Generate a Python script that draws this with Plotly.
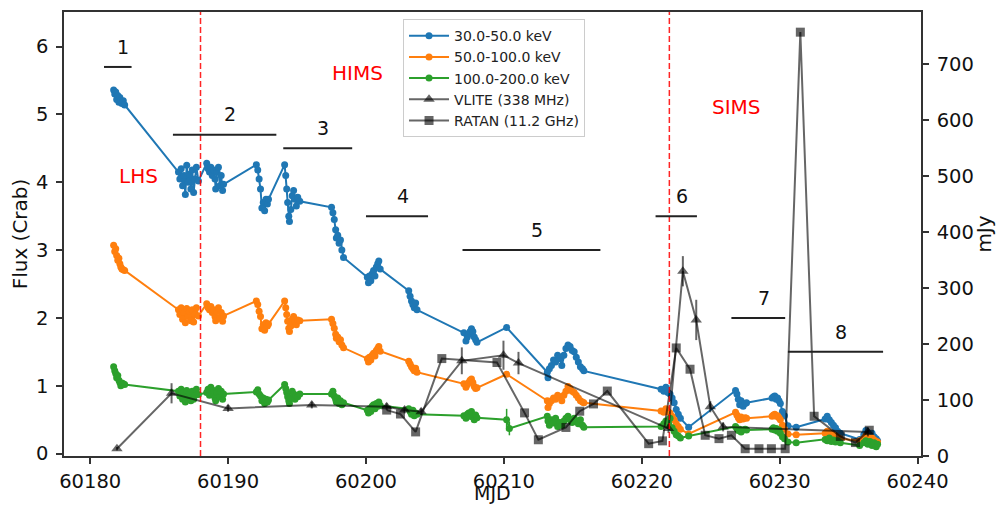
import plotly.graph_objects as go

# ---------------- data ----------------
# 30.0-50.0 keV (Crab)
hard1_mjd = [60181.70, 60181.78, 60181.85, 60181.92, 60182.00, 60182.08, 60182.15, 60182.22, 60182.30, 60182.40, 60182.50,
             60186.40, 60186.50, 60186.60, 60186.70, 60186.80, 60186.90, 60187.00, 60187.10, 60187.20, 60187.30, 60187.40, 60187.50, 60187.60, 60187.70, 60187.85,
             60188.45, 60188.55, 60188.65, 60188.75, 60188.85, 60188.95, 60189.05, 60189.10, 60189.20, 60189.30, 60189.40, 60189.50, 60189.60, 60189.67,
             60192.05, 60192.15, 60192.25, 60192.35, 60192.45, 60192.55, 60192.65, 60192.75, 60192.85, 60192.93,
             60194.10, 60194.18, 60194.25, 60194.32, 60194.40, 60194.45, 60194.55, 60194.65, 60194.75, 60194.85, 60194.95, 60195.05, 60195.20,
             60197.50, 60197.60, 60197.70, 60197.80, 60197.85, 60197.95, 60198.05, 60198.15, 60198.25, 60198.37,
             60200.10, 60200.18, 60200.25, 60200.35, 60200.45, 60200.55, 60200.65, 60200.75, 60200.85, 60200.93, 60201.03,
             60203.10, 60203.20, 60203.30, 60203.40, 60203.50, 60203.60, 60203.70,
             60207.10, 60207.25, 60207.35, 60207.45, 60207.55, 60207.65, 60207.75, 60207.85, 60207.95, 60208.05,
             60210.20,
             60213.15, 60213.20, 60213.30, 60213.45, 60213.60, 60213.75, 60213.90, 60214.05, 60214.20, 60214.35, 60214.50, 60214.65, 60214.80, 60214.95, 60215.10, 60215.25, 60215.40, 60215.55, 60215.70, 60215.80,
             60221.40, 60221.60, 60221.75, 60221.90, 60222.05, 60222.20, 60222.35, 60222.50, 60222.65, 60222.80, 60223.40,
             60226.80, 60226.90, 60227.00, 60227.10, 60227.20, 60227.35, 60227.50, 60227.60,
             60229.45, 60229.55, 60229.65, 60229.75, 60229.85, 60229.95, 60230.05, 60230.20, 60230.35, 60230.60, 60231.20,
             60233.30, 60233.45, 60233.60, 60233.75, 60233.90, 60234.05, 60234.20, 60234.40,
             60235.80, 60236.10, 60236.25, 60236.40, 60236.55, 60236.70, 60236.85, 60237.00, 60237.10]
hard1_flux = [5.36, 5.30, 5.33, 5.22, 5.28, 5.18, 5.25, 5.20, 5.16, 5.20, 5.14,
              4.15, 4.05, 4.20, 3.95, 4.10, 3.82, 4.25, 4.00, 4.12, 3.90, 4.18, 3.85, 4.05, 4.22, 4.02,
              4.28, 4.20, 4.15, 4.22, 4.10, 4.18, 4.05, 3.90, 4.15, 4.22, 3.95, 4.10, 3.88, 3.97,
              4.26, 4.18, 4.05, 3.90, 3.62, 3.70, 3.58, 3.75, 3.68, 3.75,
              4.26, 4.10, 3.90, 3.70, 3.50, 3.42, 3.60, 3.80, 3.88, 3.75, 3.65, 3.78, 3.72,
              3.63, 3.55, 3.45, 3.30, 3.18, 3.22, 3.10, 3.15, 3.00, 2.89,
              2.60, 2.52, 2.62, 2.55, 2.65, 2.70, 2.62, 2.75, 2.80, 2.84, 2.72,
              2.40, 2.32, 2.25, 2.20, 2.15, 2.22, 2.12,
              1.78, 1.66, 1.72, 1.76, 1.80, 1.84, 1.80, 1.72, 1.68, 1.64,
              1.86,
              1.20, 1.12, 1.25, 1.30, 1.38, 1.35, 1.45, 1.40, 1.30, 1.45, 1.55, 1.60, 1.58, 1.52, 1.50, 1.42, 1.35, 1.28, 1.25, 1.22,
              0.95, 0.92, 0.98, 0.90, 0.88, 0.82, 0.75, 0.65, 0.58, 0.52, 0.39,
              0.93, 0.88, 0.80, 0.72, 0.78, 0.70, 0.74, 0.75,
              0.82, 0.84, 0.85, 0.80, 0.82, 0.78, 0.74, 0.62, 0.56, 0.41, 0.39,
              0.51, 0.55, 0.50, 0.46, 0.42, 0.38, 0.33, 0.30,
              0.21, 0.28, 0.34, 0.31, 0.27, 0.30, 0.25, 0.22, 0.19]

# 50.0-100.0 keV (Crab)
hard2_mjd = hard1_mjd
hard2_flux = [3.07, 2.98, 3.02, 2.92, 2.85, 2.88, 2.80, 2.75, 2.72, 2.71, 2.70,
              2.12, 2.05, 2.15, 1.98, 2.08, 1.93, 2.14, 2.02, 2.10, 1.96, 2.12, 1.94, 2.05, 2.15, 2.03,
              2.21, 2.15, 2.12, 2.17, 2.08, 2.12, 2.02, 1.96, 2.10, 2.15, 2.00, 2.08, 1.95, 2.03,
              2.25, 2.20, 2.10, 2.02, 1.84, 1.90, 1.82, 1.93, 1.88, 1.91,
              2.25, 2.15, 2.05, 1.95, 1.85, 1.80, 1.88, 1.98, 2.02, 1.95, 1.90, 1.97, 1.96,
              1.98, 1.92, 1.85, 1.76, 1.70, 1.72, 1.65, 1.68, 1.60, 1.56,
              1.40, 1.35, 1.42, 1.38, 1.45, 1.48, 1.44, 1.52, 1.55, 1.58, 1.51,
              1.36, 1.32, 1.28, 1.25, 1.22, 1.26, 1.20,
              1.03, 0.98, 1.02, 1.05, 1.08, 1.10, 1.05, 0.99, 0.96, 0.97,
              1.17,
              0.78, 0.68, 0.74, 0.78, 0.82, 0.80, 0.86, 0.84, 0.78, 0.86, 0.92, 0.99, 0.96, 0.92, 0.90, 0.86, 0.82, 0.78, 0.76, 0.75,
              0.63, 0.61, 0.66, 0.62, 0.60, 0.55, 0.50, 0.44, 0.40, 0.36, 0.29,
              0.61, 0.57, 0.53, 0.50, 0.54, 0.51, 0.53, 0.52,
              0.55, 0.57, 0.58, 0.55, 0.56, 0.53, 0.50, 0.42, 0.36, 0.29, 0.28,
              0.30, 0.33, 0.31, 0.29, 0.28, 0.26, 0.24, 0.22,
              0.19, 0.22, 0.26, 0.24, 0.21, 0.23, 0.20, 0.18, 0.17]

# 100.0-200.0 keV (Crab)
hard3_mjd = (hard1_mjd[:101] + [60210.20, 60210.40] + hard1_mjd[102:])
hard3_flux = [1.28, 1.22, 1.18, 1.12, 1.15, 1.08, 1.05, 1.00, 1.04, 1.03, 1.02,
              0.92, 0.85, 0.95, 0.80, 0.90, 0.76, 0.93, 0.84, 0.88, 0.78, 0.92, 0.80, 0.86, 0.95, 0.87,
              0.90, 0.95, 0.86, 0.98, 0.88, 0.93, 0.82, 0.78, 0.90, 0.96, 0.84, 0.92, 0.80, 0.88,
              0.91, 0.94, 0.88, 0.85, 0.78, 0.82, 0.74, 0.80, 0.76, 0.79,
              1.02, 0.96, 0.90, 0.84, 0.78, 0.74, 0.82, 0.92, 0.88, 0.80, 0.86, 0.84, 0.88,
              0.88, 0.92, 0.85, 0.80, 0.76, 0.82, 0.74, 0.78, 0.72, 0.75,
              0.64, 0.60, 0.66, 0.62, 0.70, 0.72, 0.66, 0.74, 0.70, 0.76, 0.71,
              0.66, 0.62, 0.58, 0.64, 0.56, 0.60, 0.58,
              0.56, 0.52, 0.58, 0.60, 0.55, 0.62, 0.54, 0.50, 0.57, 0.53,
              0.50, 0.37,
              0.55, 0.48, 0.42, 0.50, 0.45, 0.52, 0.40, 0.46, 0.42, 0.48, 0.52, 0.55, 0.50, 0.46, 0.52, 0.48, 0.44, 0.50, 0.42, 0.39,
              0.40, 0.44, 0.48, 0.42, 0.52, 0.38, 0.33, 0.28, 0.26, 0.23, 0.26,
              0.40, 0.37, 0.34, 0.36, 0.32, 0.35, 0.36, 0.35,
              0.36, 0.38, 0.35, 0.37, 0.33, 0.35, 0.30, 0.25, 0.22, 0.17, 0.16,
              0.21, 0.19, 0.23, 0.18, 0.20, 0.17, 0.19, 0.16,
              0.12, 0.16, 0.19, 0.14, 0.18, 0.12, 0.16, 0.10, 0.14]
hard3_err = [0.0] * 101 + [0.16, 0.10] + [0.0] * (len(hard1_mjd) - 102)

# VLITE 338 MHz (mJy)
vlite_mjd = [60181.94, 60185.90, 60190.00, 60196.07, 60201.50, 60202.80, 60204.00, 60206.95,
             60209.97, 60211.06, 60221.94, 60222.98, 60223.95, 60224.97, 60225.90, 60236.40]
vlite_flux = [13, 112, 85, 91, 88, 82, 79, 170, 180, 166, 49, 330, 243, 88, 52, 43]
vlite_err = [3, 18, 6, 6, 6, 6, 6, 24, 26, 20, 8, 27, 36, 10, 8, 8]

# RATAN 11.2 GHz (mJy)
ratan_mjd = [60201.5, 60202.5, 60203.6, 60205.5, 60209.5, 60211.5, 60212.5, 60214.5, 60215.5,
             60216.5, 60217.5, 60220.5, 60221.5, 60222.5, 60223.5, 60224.6, 60225.6, 60226.5,
             60227.5, 60228.5, 60229.4, 60230.4, 60231.5, 60232.5, 60234.4, 60235.5, 60236.5]
ratan_flux = [82, 75, 43, 174, 167, 77, 29, 51, 80, 93, 116, 22, 27, 193, 155, 37, 31, 37,
              13, 13, 13, 13, 757, 71, 35, 24, 46]

# State transitions and intervals
transition_mjd = [60188.0, 60222.0]
state_labels = ["LHS", "HIMS", "SIMS"]
state_x = [60183.5, 60199.4, 60226.85]
state_y = [4.09, 5.61, 5.11]
interval_labels = ["1", "2", "3", "4", "5", "6", "7", "8"]
interval_start = [60181.0, 60186.0, 60194.0, 60200.0, 60207.0, 60221.0, 60226.5, 60230.6]
interval_end = [60183.0, 60193.5, 60199.0, 60204.5, 60217.0, 60224.0, 60230.4, 60237.5]
interval_y = [5.7, 4.7, 4.5, 3.5, 3.0, 3.5, 2.0, 1.5]

# ---------------- figure ----------------
FONT = "DejaVu Sans"
fig = go.Figure()

xray = [("30.0-50.0 keV", hard1_mjd, hard1_flux, None, "#1f77b4"),
        ("50.0-100.0 keV", hard2_mjd, hard2_flux, None, "#ff7f0e"),
        ("100.0-200.0 keV", hard3_mjd, hard3_flux, hard3_err, "#2ca02c")]
for name, xs, ys, err, col in xray:
    fig.add_trace(go.Scatter(
        x=xs, y=ys, name=name, mode="lines+markers",
        line=dict(color=col, width=2),
        marker=dict(color=col, size=7),
        error_y=(dict(type="data", array=err, color=col, thickness=1.5, width=0) if err else None),
    ))

radio_col = "rgba(0,0,0,0.6)"
fig.add_trace(go.Scatter(
    x=vlite_mjd, y=vlite_flux, name="VLITE (338 MHz)", mode="lines+markers", yaxis="y2",
    line=dict(color=radio_col, width=2),
    marker=dict(symbol="triangle-up", color=radio_col, size=10),
    error_y=dict(type="data", array=vlite_err, color=radio_col, thickness=2, width=0),
))
fig.add_trace(go.Scatter(
    x=ratan_mjd, y=ratan_flux, name="RATAN (11.2 GHz)", mode="lines+markers", yaxis="y2",
    line=dict(color=radio_col, width=2),
    marker=dict(symbol="square", color=radio_col, size=9),
))

for xm in transition_mjd:
    fig.add_shape(type="line", xref="x", yref="y domain", x0=xm, x1=xm, y0=0, y1=1,
                  line=dict(color="red", width=1.5, dash="6px,3px"), opacity=0.85)

for s, e, yv, lab in zip(interval_start, interval_end, interval_y, interval_labels):
    fig.add_shape(type="line", xref="x", yref="y", x0=s, x1=e, y0=yv, y1=yv,
                  line=dict(color="#222222", width=2))
    fig.add_annotation(x=(s + e) / 2 + 0.4, y=yv + 0.3, text=lab, showarrow=False,
                       font=dict(family=FONT, size=19, color="#111111"), xref="x", yref="y")

for lab, xv, yv in zip(state_labels, state_x, state_y):
    fig.add_annotation(x=xv, y=yv, text=lab, showarrow=False, xref="x", yref="y",
                       font=dict(family=FONT, size=20, color="red"))

# x-axis title placed as an annotation below the tick labels
fig.add_annotation(x=0.5, y=0, xref="paper", yref="paper", yanchor="middle", yshift=-37,
                   text="MJD", showarrow=False, font=dict(family=FONT, size=19, color="#111111"))

axis_common = dict(showline=True, linecolor="#333333", linewidth=1.5, ticks="outside",
                   ticklen=6, tickwidth=1.5, tickcolor="#333333", showgrid=False, zeroline=False,
                   automargin=False,
                   tickfont=dict(family=FONT, size=19.5, color="#111111"))

# The page body adds an 8px margin around the figure, so the figure is sized to fit the window.
fig.update_layout(
    width=988, height=496,
    margin=dict(l=56, r=75, t=4, b=48),
    paper_bgcolor="white", plot_bgcolor="white",
    font=dict(family=FONT, color="#111111"),
    xaxis=dict(range=[60178.1, 60240.25], tickvals=[60180, 60190, 60200, 60210, 60220, 60230, 60240],
               tickformat="d", mirror=True, ticklabelstandoff=1, **axis_common),
    yaxis=dict(range=[-0.035, 6.51], tickvals=[0, 1, 2, 3, 4, 5, 6],
               title=dict(text="Flux (Crab)", font=dict(family=FONT, size=20), standoff=8),
               ticklabelstandoff=4, **axis_common),
    yaxis2=dict(range=[0, 793], tickvals=[0, 100, 200, 300, 400, 500, 600, 700], overlaying="y",
                side="right", title=dict(text="mJy", font=dict(family=FONT, size=20), standoff=6),
                ticklabelstandoff=4, **axis_common),
    legend=dict(x=0.3956, y=0.984, xanchor="left", yanchor="top", bgcolor="rgba(255,255,255,0.8)",
                bordercolor="#cccccc", borderwidth=1, font=dict(family=FONT, size=14, color="#222222"),
                itemwidth=40, tracegroupgap=0),
    showlegend=True,
)

fig.write_html("out.html")
